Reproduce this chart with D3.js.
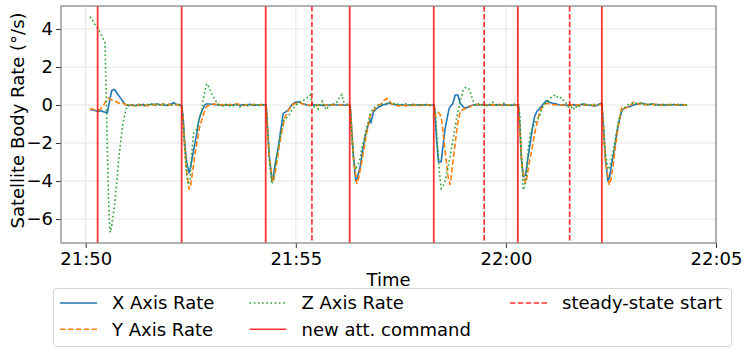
<!DOCTYPE html>
<html>
<head>
<meta charset="utf-8">
<script src="https://cdn.jsdelivr.net/npm/d3@7"></script>
<style>
  body { margin: 0; background: #fff; }
  text { font-family: "DejaVu Sans", sans-serif; fill: #000; }
</style>
</head>
<body>
<div id="chart"></div>
<script>
// seconds after 21:50:00, value in deg/s
var xRate = [[6,-0.23],[10,-0.26],[14,-0.3],[18,-0.32],[22,-0.3],[26,-0.36],[31,-0.4],[34,0.2],[37,0.75],[40,0.82],[42,0.78],[46,0.55],[50,0.35],[55,0.09],[58,0.0],[62,-0.03],[66,0.02],[70,-0.04],[74,0.0],[78,-0.02],[82,0.03],[86,-0.03],[90,0.0],[94,0.05],[98,0.02],[102,0.06],[106,0.0],[110,0.03],[114,-0.02],[118,0.02],[122,0.05],[126,0.12],[129,0.03],[133,0.02],[137,-0.05],
  [139,-0.6],[141,-1.8],[144,-3.0],[147.6,-3.6],[150,-3.2],[153,-2.6],[156,-2.0],[159,-1.4],[161,-0.9],[163,-0.6],[166,-0.3],[170,0.0],[172,0.05],[176,0.05],[180,0.04],[185,0.02],[190,0.01],[195,0.0],[200,0.02],[205,-0.02],[210,0.01],[215,0.03],[220,-0.01],[225,0.02],[230,0.0],[235,0.04],[240,-0.02],[245,0.0],[250,0.02],[255,0.0],[257.6,0.0],
  [259,-0.8],[262,-2.6],[265.7,-3.95],[268,-3.7],[271,-3.0],[275,-2.2],[279,-1.2],[282,-0.44],[286,-0.35],[289.5,-0.26],[294,0.0],[299,0.14],[302,0.15],[305,0.16],[310,0.06],[316,0.0],[320,-0.03],[325,0.02],[330,-0.02],[335,0.0],[340,-0.03],[345,0.0],[350,0.01],[355,0.03],[360,0.0],[365,0.02],[370,-0.01],[375,0.02],[377.6,0.0],
  [379,-0.8],[382,-2.6],[385.7,-4.03],[388,-3.8],[391.9,-3.25],[395,-2.5],[399,-1.67],[403,-1.1],[406,-0.79],[407.5,-0.9],[411,-0.35],[415,-0.2],[418.6,-0.1],[424,0.0],[430,0.05],[434.7,0.12],[437,0.04],[442,0.02],[447,0.0],[452,0.03],[457,-0.02],[462,0.0],[467,0.02],[472,-0.01],[477,0.01],[482,0.0],[487,0.02],[492,-0.02],[497.6,0.0],
  [499,-0.5],[501,-1.8],[503.7,-2.98],[507.6,-2.98],[510,-2.2],[513,-1.3],[516,-0.7],[519,-0.18],[522,0.0],[524,0.05],[527.6,0.53],[531.4,0.53],[534.7,0.09],[538,-0.05],[541.9,-0.18],[545,-0.12],[549,-0.05],[553,0.0],[558,0.02],[563,0.0],[568,0.03],[573,-0.02],[578,0.01],[583,0.0],[588,0.02],[593,-0.01],[598,0.02],[603,0.0],[608,-0.02],[613,0.01],[618,0.0],
  [620,-1.2],[622,-2.8],[625,-3.77],[628,-3.7],[631,-2.9],[634.7,-2.0],[638,-1.2],[641,-0.6],[644,-0.35],[648,-0.2],[652,0.0],[657.6,0.23],[662,0.15],[667,0.09],[672,0.05],[677,0.0],[682,0.01],[687,-0.02],[692,0.0],[697,0.02],[702,-0.03],[707,0.02],[712,0.05],[717,0.0],[722,-0.02],[727,-0.06],[732,0.02],[735,0.08],[737,0.1],
  [739,-1.0],[742,-2.8],[745.7,-4.03],[748,-3.8],[751,-3.1],[753.9,-2.55],[757,-1.8],[760.9,-0.97],[765.7,-0.26],[770,-0.15],[775,-0.1],[780,-0.02],[785,0.03],[790,0.06],[795,0.09],[800,0.04],[805,0.02],[810,0.05],[815,0.0],[820,0.03],[825,-0.02],[830,0.02],[835,0.0],[840,0.03],[845,-0.01],[850,0.02],[855,0.0],[858.6,0.01]];

var yRate = [[6,-0.2],[10,-0.22],[14,-0.26],[20,-0.25],[24,-0.1],[28,0.15],[32,0.35],[35,0.3],[37,0.27],[40,0.22],[42,0.2],[45,0.15],[47,0.1],[51,0.12],[55,0.05],[60,-0.02],[64,0.02],[68,-0.05],[72,0.0],[76,0.03],[80,-0.02],[84,0.02],[88,-0.04],[92,0.03],[96,0.0],[100,0.04],[104,-0.02],[108,0.02],[112,0.05],[116,0.0],[120,0.03],[124,-0.02],[128,0.04],[132,0.0],[137,-0.1],
  [139,-0.7],[141,-2.0],[144,-3.5],[147.6,-4.45],[150,-4.2],[153,-3.4],[156,-2.6],[158.6,-2.0],[161,-1.5],[163,-1.1],[165.7,-0.8],[169,-0.4],[172,-0.1],[176,0.0],[180,0.02],[185,0.05],[190,0.0],[195,0.03],[200,-0.02],[205,0.04],[210,0.0],[215,0.06],[220,0.02],[225,-0.03],[230,0.03],[235,0.0],[240,0.04],[245,-0.02],[250,0.02],[255,-0.01],[257.6,0.0],
  [259,-0.9],[262,-2.7],[267,-4.05],[270,-3.7],[273,-3.0],[277,-2.0],[281,-1.2],[285,-0.6],[289,-0.3],[293,-0.1],[297,0.05],[302,0.1],[306,0.12],[310,0.05],[315,0.02],[320,-0.02],[325,0.03],[330,-0.03],[335,0.0],[340,0.03],[345,-0.02],[350,0.02],[355,0.0],[360,0.03],[365,-0.01],[370,0.02],[375,0.0],[377.6,0.0],
  [379,-0.9],[382,-2.7],[387,-4.15],[390,-3.8],[393,-3.2],[397,-2.4],[401,-1.5],[406,-0.6],[409,-0.35],[413,-0.2],[418,0.0],[422,0.05],[426,0.25],[430,0.35],[433,0.25],[437,0.05],[442,0.0],[447,-0.05],[452,0.02],[457,-0.05],[462,0.0],[467,-0.03],[472,0.02],[477,-0.04],[482,0.0],[487,0.03],[492,-0.02],[497.6,0.0],
  [499,-0.6],[501,-0.5],[503.7,-0.4],[506,-0.5],[508,-0.7],[510,-1.4],[513,-2.37],[516,-3.3],[518,-3.9],[520.4,-4.2],[523,-3.4],[527.6,-2.0],[531,-1.0],[534.7,-0.35],[538,-0.25],[541,-0.2],[544,-0.15],[548,-0.1],[552,-0.02],[556,0.0],[560,0.05],[565,-0.03],[570,0.04],[575,-0.05],[580,0.02],[585,-0.02],[590,0.03],[595,-0.03],[600,0.02],[605,0.0],[610,0.03],[614,-0.02],[618,0.0],
  [620,-1.4],[623,-3.2],[627.6,-4.12],[630,-3.8],[633,-3.1],[637,-2.37],[641,-1.5],[646.6,-0.6],[649,-0.3],[652,-0.1],[655,0.0],[658,0.1],[662,0.05],[667,0.02],[672,0.0],[677,0.03],[682,-0.02],[687,0.0],[692,0.02],[697,-0.03],[702,0.0],[707,0.02],[712,-0.02],[717,0.03],[722,0.0],[727,-0.03],[732,0.02],[737,0.03],
  [739,-1.1],[742,-2.9],[747.6,-4.2],[750,-3.9],[753,-3.2],[756,-2.3],[760,-1.2],[765,-0.18],[767,-0.3],[770,-0.15],[775,-0.1],[780,0.05],[782,0.15],[786,0.08],[790,0.05],[795,0.1],[800,0.0],[805,0.06],[810,0.02],[815,0.05],[820,-0.02],[825,0.03],[830,0.0],[835,0.04],[840,-0.01],[845,0.03],[850,0.0],[855,0.02],[858.6,0.0]];

var zRate = [[6,4.65],[10,4.45],[13,4.25],[16,4.12],[20,3.85],[24,3.55],[27.5,3.3],[29,1.0],[31,-2.5],[33,-5.5],[34.7,-6.7],[37,-6.4],[39.5,-5.7],[42,-5.0],[44,-4.2],[47,-2.9],[50,-1.9],[53,-1.0],[57,-0.3],[60,0.0],[64,-0.05],[68,0.02],[72,-0.03],[76,0.04],[80,0.0],[84,-0.04],[88,0.03],[92,0.0],[96,0.05],[100,-0.02],[104,0.03],[108,0.0],[112,0.04],[116,-0.03],[120,0.02],[124,0.0],[128,0.05],[132,-0.02],[137,0.0],
  [139,-0.9],[141,-2.2],[144,-3.6],[146.6,-4.2],[149,-3.9],[151,-2.8],[153.7,-1.5],[156,-1.4],[158,-1.3],[161,-0.9],[163,-0.6],[165.7,-0.26],[168,0.3],[170,0.7],[172.8,1.12],[175,1.0],[178,0.75],[182,0.44],[186,0.2],[189,0.05],[192,0.0],[196,-0.05],[200,0.03],[204,-0.08],[208,0.02],[212,-0.06],[216,0.03],[220,-0.1],[224,0.0],[228,0.04],[232,-0.05],[236,0.02],[240,-0.04],[244,0.05],[248,-0.03],[252,0.02],[257.6,0.0],
  [259,-0.9],[262,-2.8],[265.7,-4.15],[268,-3.9],[271,-3.1],[275,-2.3],[279,-1.4],[283,-0.8],[286,-0.7],[289,-0.6],[292,-0.45],[294,-0.3],[298,-0.1],[302,0.05],[307,0.2],[311,0.25],[315,0.35],[318,0.45],[320.5,0.53],[323,0.1],[326,-0.1],[329,0.05],[332,-0.2],[335,0.1],[338,0.2],[341,-0.1],[344,-0.25],[347,0.0],[350,-0.05],[354,0.05],[358,0.1],[361,0.3],[363,0.45],[365.7,0.55],[368,0.18],[372,0.05],[377.6,0.0],
  [379,-0.8],[381,-2.2],[383,-3.1],[386,-3.3],[389,-3.1],[392,-2.8],[394,-2.3],[397,-1.9],[401,-1.2],[404,-0.8],[406,-0.5],[410,-0.2],[414,-0.1],[418,0.0],[422,0.05],[426,0.03],[430,0.1],[434,0.08],[438,0.12],[442,0.02],[447,0.05],[452,0.0],[457,0.06],[462,-0.02],[467,0.04],[472,0.0],[477,0.05],[482,-0.02],[487,0.03],[492,0.0],[497.6,0.0],
  [499,-0.3],[501,-1.4],[502.9,-2.37],[505,-3.5],[507.6,-4.4],[510,-4.3],[513,-4.0],[516,-3.5],[520.4,-2.7],[524,-1.9],[527.6,-1.14],[530,-0.6],[532,-0.26],[535,0.2],[539,0.79],[541,0.9],[544,0.93],[547,0.85],[549,0.7],[551,0.45],[553.7,0.18],[557,0.0],[561,0.05],[565,-0.03],[569,0.06],[573,-0.05],[577,0.02],[581,0.15],[585,0.0],[589,-0.05],[593,0.05],[597,0.1],[601,-0.02],[605,0.05],[609,-0.04],[613,0.08],[618,0.0],
  [620,-0.6],[622,-2.5],[625,-4.47],[627,-4.2],[629,-3.8],[632,-2.3],[635,-1.5],[639.4,-1.1],[643,-0.85],[648,-0.6],[651,-0.2],[655,0.05],[659,0.2],[663,0.35],[667,0.45],[671,0.55],[675,0.35],[679,0.4],[683,0.2],[687,0.05],[690,-0.15],[693,-0.1],[696,-0.25],[699,-0.05],[702,-0.15],[706,0.0],[710,0.05],[714,-0.03],[718,0.04],[722,-0.02],[726,0.03],[730,0.0],[734,0.05],[737,0.02],
  [739,-0.9],[742,-2.5],[745.7,-3.4],[748,-3.3],[751,-2.8],[754,-2.3],[757,-1.6],[761,-0.8],[765,-0.35],[768,-0.2],[772,-0.05],[776,0.05],[780,0.08],[784,0.12],[788,0.05],[792,0.1],[796,0.02],[800,0.08],[804,0.0],[808,0.06],[812,-0.02],[816,0.05],[820,0.0],[824,0.04],[828,-0.03],[832,0.05],[836,0.0],[840,0.04],[844,-0.02],[848,0.05],[852,0.0],[856,0.03],[858.6,0.0]];

var commandTimes = ["21:50:17", "21:52:17", "21:54:17", "21:56:17", "21:58:17", "22:00:17", "22:02:17"];
var steadyTimes = ["21:55:23", "21:59:29", "22:01:31"];
var xTicks = ["21:50", "21:55", "22:00", "22:05"];
var yTicks = [-6, -4, -2, 0, 2, 4];

var svgWidth = 746;
var svgHeight = 354;
var margin = { top: 6, right: 30, bottom: 111, left: 61 };
var width = svgWidth - margin.left - margin.right;
var height = svgHeight - margin.top - margin.bottom;

var parseHM = d3.timeParse("%H:%M");
var parseHMS = d3.timeParse("%H:%M:%S");
var t0 = parseHM("21:50");
var toDate = s => new Date(t0.getTime() + s * 1000);

var svg = d3.select("#chart")
  .append("svg")
    .attr("width", svgWidth)
    .attr("height", svgHeight);

var chartGroup = svg.append("g")
  .attr("transform", `translate(${margin.left}, ${margin.top})`);

var xScale = d3.scaleTime()
  .domain([new Date(t0.getTime() - 35300), parseHM("22:05")])
  .range([0, width]);
var yScale = d3.scaleLinear()
  .domain([-7.26, 5.21])
  .range([height, 0]);

// grid
chartGroup.append("g")
  .selectAll("line.gy")
  .data(yTicks)
  .enter().append("line")
    .attr("x1", 0).attr("x2", width)
    .attr("y1", d => yScale(d)).attr("y2", d => yScale(d))
    .attr("stroke", "#b0b0b0").attr("stroke-opacity", 0.3);
chartGroup.append("g")
  .selectAll("line.gx")
  .data(xTicks.map(parseHM))
  .enter().append("line")
    .attr("x1", d => xScale(d)).attr("x2", d => xScale(d))
    .attr("y1", 0).attr("y2", height)
    .attr("stroke", "#b0b0b0").attr("stroke-opacity", 0.3);

chartGroup.append("clipPath").attr("id", "clip")
  .append("rect").attr("width", width).attr("height", height);

var plot = chartGroup.append("g").attr("clip-path", "url(#clip)");

var line = d3.line()
  .x(d => xScale(toDate(d[0])))
  .y(d => yScale(d[1]));

plot.append("path").datum(xRate)
  .attr("d", line).attr("fill", "none")
  .attr("stroke", "#1f77b4").attr("stroke-width", 1.6);
plot.append("path").datum(yRate)
  .attr("d", line).attr("fill", "none")
  .attr("stroke", "#ff7f0e").attr("stroke-width", 1.6)
  .attr("stroke-dasharray", "5.5,2.4");
plot.append("path").datum(zRate)
  .attr("d", line).attr("fill", "none")
  .attr("stroke", "#2ca02c").attr("stroke-width", 1.6)
  .attr("stroke-dasharray", "1.6,2.6");

plot.selectAll("line.cmd")
  .data(commandTimes.map(parseHMS))
  .enter().append("line")
    .attr("x1", d => xScale(d)).attr("x2", d => xScale(d))
    .attr("y1", 0).attr("y2", height)
    .attr("stroke", "red").attr("stroke-opacity", 0.8).attr("stroke-width", 1.8);
plot.selectAll("line.steady")
  .data(steadyTimes.map(parseHMS))
  .enter().append("line")
    .attr("x1", d => xScale(d)).attr("x2", d => xScale(d))
    .attr("y1", 0).attr("y2", height)
    .attr("stroke", "red").attr("stroke-opacity", 0.85).attr("stroke-width", 1.6)
    .attr("stroke-dasharray", "5.5,2.4");

// axes
var bottomAxis = d3.axisBottom(xScale)
  .tickValues(xTicks.map(parseHM))
  .tickFormat(d3.timeFormat("%H:%M"))
  .tickSize(5).tickPadding(4);
var leftAxis = d3.axisLeft(yScale)
  .tickValues(yTicks)
  .tickFormat(d => d < 0 ? "\u2212" + Math.abs(d) : d)
  .tickSize(5).tickPadding(3);

var xg = chartGroup.append("g")
  .attr("transform", `translate(0, ${height})`)
  .call(bottomAxis);
var yg = chartGroup.append("g").call(leftAxis);
[xg, yg].forEach(g => {
  g.select(".domain").remove();
  g.selectAll("text").attr("font-size", "18px").attr("font-family", "DejaVu Sans").attr("fill", "#000");
  g.selectAll("line").attr("stroke", "#333");
});

chartGroup.append("rect")
  .attr("width", width).attr("height", height)
  .attr("fill", "none").attr("stroke", "#808080").attr("stroke-width", 1.2);

chartGroup.append("text")
  .attr("transform", "rotate(-90)")
  .attr("x", -height / 2 + 4)
  .attr("y", -37)
  .attr("text-anchor", "middle")
  .attr("font-size", "18px")
  .text("Satellite Body Rate (°/s)");

chartGroup.append("text")
  .attr("x", width / 2)
  .attr("y", height + 43)
  .attr("text-anchor", "middle")
  .attr("font-size", "18px")
  .text("Time");

// legend
var legendItems = [
  { label: "X Axis Rate", color: "#1f77b4", dash: null, col: 0, row: 0 },
  { label: "Y Axis Rate", color: "#ff7f0e", dash: "5.5,2.4", col: 0, row: 1 },
  { label: "Z Axis Rate", color: "#2ca02c", dash: "1.6,2.6", col: 1, row: 0 },
  { label: "new att. command", color: "red", dash: null, col: 1, row: 1 },
  { label: "steady-state start", color: "red", dash: "5.5,2.4", col: 2, row: 0 }
];
var colX = [60, 249.5, 510];
var rowY = [303, 329.3];

svg.append("rect")
  .attr("x", 53.5).attr("y", 288.5)
  .attr("width", 678).attr("height", 58)
  .attr("rx", 3)
  .attr("fill", "#fff").attr("fill-opacity", 0.8)
  .attr("stroke", "#d6d6d6");

var legend = svg.selectAll("g.legend")
  .data(legendItems)
  .enter().append("g")
    .attr("transform", d => `translate(${colX[d.col]}, ${rowY[d.row]})`);
legend.append("line")
  .attr("x1", 0).attr("x2", 37)
  .attr("stroke", d => d.color)
  .attr("stroke-opacity", d => d.color == "red" ? 0.8 : 1)
  .attr("stroke-width", 1.6)
  .attr("stroke-dasharray", d => d.dash);
legend.append("text")
  .attr("x", 52)
  .attr("dy", "0.35em")
  .attr("font-size", "18px")
  .text(d => d.label);
</script>
</body>
</html>
